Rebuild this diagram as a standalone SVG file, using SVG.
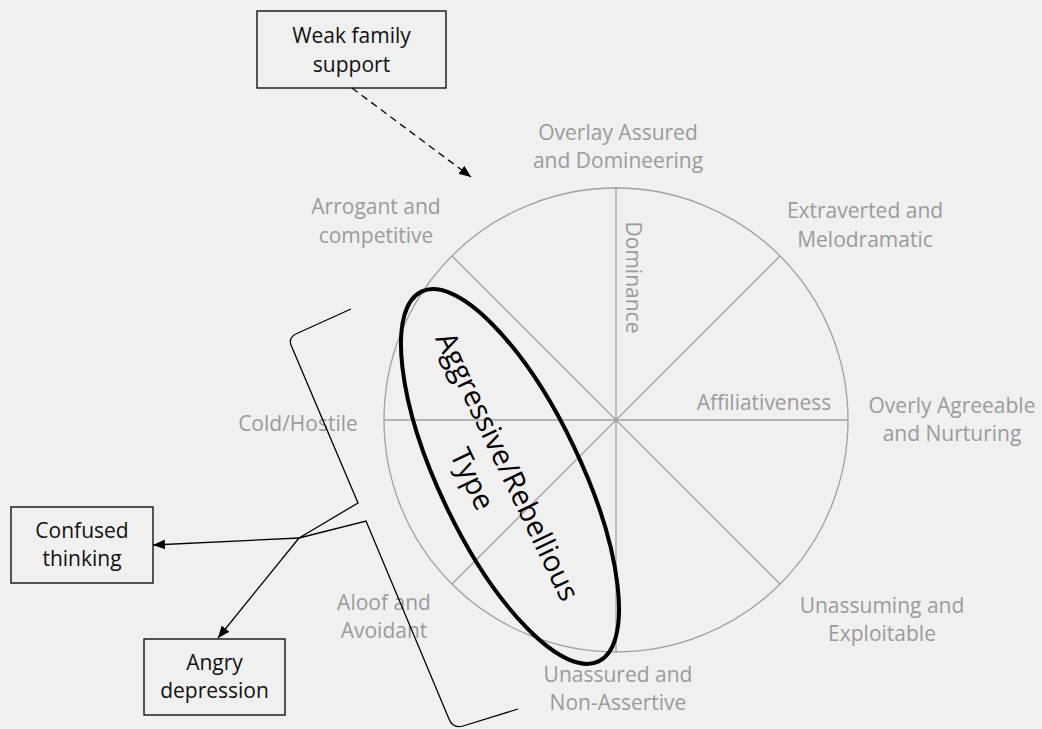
<svg xmlns="http://www.w3.org/2000/svg" width="1042" height="729" viewBox="0 0 1042 729">
  <defs>
    <marker id="arrow" viewBox="0 0 12 10" refX="12" refY="5" markerWidth="12" markerHeight="10" markerUnits="userSpaceOnUse" orient="auto">
      <path d="M0,0 L12,5 L0,10 Z" fill="#000"/>
    </marker>
    <style>
      .bg { fill: #f0f0f0; }
      .wheel { fill: none; stroke: #a0a0a0; stroke-width: 1.3; }
      .lbl { font-family: "Open Sans", "Liberation Sans", sans-serif; font-size: 21px; fill: #9b9b9b; text-anchor: middle; }
      .box { fill: none; stroke: #000; stroke-width: 1.3; }
      .boxtxt { font-family: "Open Sans", "Liberation Sans", sans-serif; font-size: 21px; fill: #111; text-anchor: middle; }
      .link { fill: none; stroke: #000; stroke-width: 1.3; }
      .dash { stroke-dasharray: 7 5; }
      .type { fill: none; stroke: #000; stroke-width: 4; }
      .typetxt { font-family: "Open Sans", "Liberation Sans", sans-serif; font-size: 29px; fill: #000; text-anchor: middle; }
    </style>
  </defs>

  <rect class="bg" x="0" y="0" width="1042" height="729"/>

  <!-- interpersonal circle with its axes -->
  <g id="circumplex">
    <circle class="wheel" cx="616" cy="420" r="232"/>
    <line class="wheel" x1="616" y1="188" x2="616" y2="652"/>
    <line class="wheel" x1="384" y1="420" x2="848" y2="420"/>
    <line class="wheel" x1="452" y1="256" x2="780" y2="584"/>
    <line class="wheel" x1="780" y1="256" x2="452" y2="584"/>
    <text class="lbl" transform="translate(626,277.5) rotate(90)" x="0" y="0">Dominance</text>
    <text class="lbl" x="764" y="410">Affiliativeness</text>
  </g>

  <!-- octant labels -->
  <g id="octant-labels">
    <text class="lbl" x="618" y="140">Overlay Assured</text>
    <text class="lbl" x="618" y="168">and Domineering</text>
    <text class="lbl" x="865" y="218">Extraverted and</text>
    <text class="lbl" x="865" y="247">Melodramatic</text>
    <text class="lbl" x="952" y="413">Overly Agreeable</text>
    <text class="lbl" x="952" y="441">and Nurturing</text>
    <text class="lbl" x="882" y="613">Unassuming and</text>
    <text class="lbl" x="882" y="641">Exploitable</text>
    <text class="lbl" x="618" y="682">Unassured and</text>
    <text class="lbl" x="618" y="710">Non-Assertive</text>
    <text class="lbl" x="384" y="610">Aloof and</text>
    <text class="lbl" x="384" y="638">Avoidant</text>
    <text class="lbl" x="298" y="431">Cold/Hostile</text>
    <text class="lbl" x="376" y="214">Arrogant and</text>
    <text class="lbl" x="376" y="243">competitive</text>
  </g>

  <!-- highlighted type -->
  <g id="aggressive-type" transform="translate(510,476.5) rotate(64.4)">
    <ellipse class="type" cx="0" cy="0" rx="205" ry="70.5"/>
    <text class="typetxt" x="-10" y="8">Aggressive/Rebellious</text>
    <text class="typetxt" x="-14" y="45">Type</text>
  </g>

  <!-- outcome nodes -->
  <g id="weak-family-support">
    <rect class="box" x="257" y="11" width="189" height="77"/>
    <text class="boxtxt" x="351.5" y="43">Weak family</text>
    <text class="boxtxt" x="351.5" y="72">support</text>
  </g>
  <g id="confused-thinking">
    <rect class="box" x="11" y="507" width="142" height="76"/>
    <text class="boxtxt" x="82" y="538">Confused</text>
    <text class="boxtxt" x="82" y="566">thinking</text>
  </g>
  <g id="angry-depression">
    <rect class="box" x="144" y="639" width="141" height="76"/>
    <text class="boxtxt" x="214.5" y="670">Angry</text>
    <text class="boxtxt" x="214.5" y="698">depression</text>
  </g>

  <!-- connectors -->
  <g id="connectors">
    <path class="link" d="M351,309 L298,333 Q288,337 291,345 L358,503 L299,538 L366,521 L449,719 Q453,729 463,726 L518,709"/>
    <line class="link" x1="299" y1="538" x2="153" y2="545" marker-end="url(#arrow)"/>
    <line class="link" x1="299" y1="538" x2="218" y2="638" marker-end="url(#arrow)"/>
    <line class="link dash" x1="352" y1="88" x2="471" y2="177" marker-end="url(#arrow)"/>
  </g>
</svg>
